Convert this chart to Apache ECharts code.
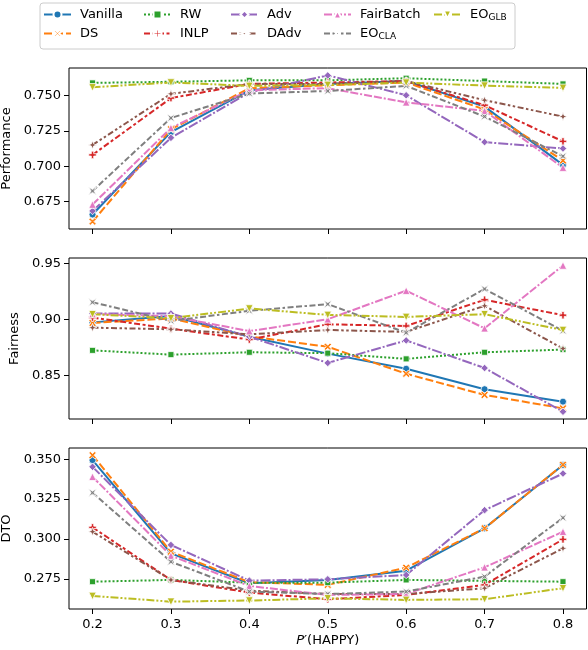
<!DOCTYPE html>
<html>
<head>
<meta charset="utf-8">
<script src="https://cdn.jsdelivr.net/npm/echarts@6/dist/echarts.min.js"></script>
<style>
html, body { margin: 0; padding: 0; background: #fff; }
#chart { width: 588px; height: 650px; }
</style>
</head>
<body>
<div id="chart"></div>
<script>
// x positions, P'(HAPPY)
var xValues = [0.2, 0.3, 0.4, 0.5, 0.6, 0.7, 0.8];
var xTicks = [0.2, 0.3, 0.4, 0.5, 0.6, 0.7, 0.8];

var methods = ['Vanilla', 'DS', 'RW', 'INLP', 'Adv', 'DAdv', 'FairBatch', 'EO_CLA', 'EO_GLB'];

// Performance
var perfVanilla   = [0.666, 0.724, 0.7535, 0.758, 0.760, 0.742, 0.701];
var perfDS        = [0.661, 0.726, 0.755, 0.757, 0.759, 0.740, 0.704];
var perfRW        = [0.7587, 0.7595, 0.7605, 0.7605, 0.762, 0.760, 0.758];
var perfINLP      = [0.708, 0.748, 0.758, 0.759, 0.760, 0.743, 0.7175];
var perfAdv       = [0.6685, 0.720, 0.752, 0.764, 0.750, 0.717, 0.7125];
var perfDAdv      = [0.715, 0.751, 0.758, 0.758, 0.760, 0.7465, 0.735];
var perfFairBatch = [0.673, 0.727, 0.7535, 0.755, 0.745, 0.739, 0.699];
var perfEOCLA     = [0.6826, 0.734, 0.7512, 0.753, 0.7566, 0.735, 0.707];
var perfEOGLB     = [0.7556, 0.759, 0.7566, 0.7573, 0.7589, 0.7568, 0.7552];

// Fairness
var fairVanilla   = [0.8975, 0.9033, 0.8847, 0.8696, 0.8561, 0.8378, 0.8267];
var fairDS        = [0.897, 0.901, 0.885, 0.8757, 0.8516, 0.8327, 0.8207];
var fairRW        = [0.8725, 0.8687, 0.8708, 0.870, 0.8649, 0.8708, 0.8732];
var fairINLP      = [0.9018, 0.8919, 0.8822, 0.8958, 0.8943, 0.9177, 0.9039];
var fairAdv       = [0.9054, 0.9054, 0.8847, 0.8613, 0.8814, 0.8567, 0.8177];
var fairDAdv      = [0.8928, 0.8913, 0.8868, 0.8907, 0.889, 0.9123, 0.8741];
var fairFairBatch = [0.905, 0.903, 0.8897, 0.9003, 0.9258, 0.8922, 0.9483];
var fairEOCLA     = [0.9155, 0.8988, 0.9078, 0.9138, 0.8883, 0.9273, 0.890];
var fairEOGLB     = [0.9048, 0.9012, 0.9099, 0.9042, 0.9024, 0.9048, 0.8907];

// DTO
var dtoVanilla   = [0.3494, 0.291, 0.2723, 0.2744, 0.2802, 0.3067, 0.3463];
var dtoDS        = [0.3525, 0.2921, 0.273, 0.2713, 0.2821, 0.3067, 0.3465];
var dtoRW        = [0.2733, 0.2744, 0.2727, 0.2727, 0.2744, 0.2738, 0.2733];
var dtoINLP      = [0.3073, 0.2744, 0.2665, 0.2623, 0.265, 0.2713, 0.2998];
var dtoAdv       = [0.3452, 0.2963, 0.274, 0.2748, 0.2775, 0.3181, 0.341];
var dtoDAdv      = [0.3046, 0.2744, 0.2677, 0.2656, 0.2656, 0.2692, 0.2942];
var dtoFairBatch = [0.339, 0.2896, 0.2706, 0.265, 0.2656, 0.2823, 0.3046];
var dtoEOCLA     = [0.329, 0.2858, 0.2671, 0.2656, 0.2671, 0.2765, 0.3133];
var dtoEOGLB     = [0.2644, 0.2608, 0.2615, 0.2629, 0.2619, 0.2623, 0.2692];

var perfTicks = [0.675, 0.700, 0.725, 0.750];
var fairTicks = [0.85, 0.90, 0.95];
var dtoTicks = [0.275, 0.300, 0.325, 0.350];

var colors = ['#1f77b4', '#ff7f0e', '#2ca02c', '#d62728', '#9467bd', '#8c564b', '#e377c2', '#7f7f7f', '#bcbd22'];
// seaborn dash specs (in line widths), scaled by lw = 2px below
var dashSpecs = [
    null, [4, 1.5], [1, 1], [3, 1.25, 1.5, 1.25], [5, 1, 1, 1],
    [3, 1.25, 1.25, 1.25, 1.25, 1.25], [4, 1, 4, 1, 1, 1],
    [3, 1.25, 3, 1.25, 1.25, 1.25], [4, 1, 1, 1, 1, 1]
];
var markers = [
    'circle',
    'path://M2,0 L5,3 L8,0 L10,2 L7,5 L10,8 L8,10 L5,7 L2,10 L0,8 L3,5 L0,2 Z',
    'rect',
    'path://M3.4,0 H6.6 V3.4 H10 V6.6 H6.6 V10 H3.4 V6.6 H0 V3.4 H3.4 Z',
    'diamond',
    'path://M5,0 L6.3,3.7 L10,5 L6.3,6.3 L5,10 L3.7,6.3 L0,5 L3.7,3.7 Z',
    'triangle',
    'path://M0,0 L5,3.2 L10,0 L6.8,5 L10,10 L5,6.8 L0,10 L3.2,5 Z',
    'triangle'
];
var markerSizes = [7, 7.5, 6, 7.5, 7.5, 8.5, 7.5, 8, 7.5];
var markerRotate = [0, 0, 0, 0, 0, 0, 0, 0, 180];

var perfRows = [perfVanilla, perfDS, perfRW, perfINLP, perfAdv, perfDAdv, perfFairBatch, perfEOCLA, perfEOGLB];
var fairRows = [fairVanilla, fairDS, fairRW, fairINLP, fairAdv, fairDAdv, fairFairBatch, fairEOCLA, fairEOGLB];
var dtoRows = [dtoVanilla, dtoDS, dtoRW, dtoINLP, dtoAdv, dtoDAdv, dtoFairBatch, dtoEOCLA, dtoEOGLB];

var font = 'DejaVu Sans';

function panelSeries(panel, rows) {
    return methods.map(function (name, i) {
        var dash = dashSpecs[i] ? dashSpecs[i].map(function (d) { return d * 2; }) : 'solid';
        return {
            name: name,
            type: 'line',
            xAxisIndex: panel,
            yAxisIndex: panel,
            data: xValues.map(function (x, j) { return [x, rows[i][j]]; }),
            symbol: markers[i],
            symbolSize: markerSizes[i],
            symbolRotate: markerRotate[i],
            showAllSymbol: true,
            animation: false,
            lineStyle: { color: colors[i], width: 2, type: dash, cap: 'butt' },
            itemStyle: { color: colors[i], borderColor: '#fff', borderWidth: 0.8 }
        };
    });
}

function xAxisFor(panel, showLabels) {
    var ax = {
        type: 'value',
        gridIndex: panel,
        min: 0.17,
        max: 0.83,
        splitLine: { show: false },
        axisLine: { show: false },
        axisTick: { show: true, length: 5, customValues: xTicks, lineStyle: { color: '#000', width: 1 } },
        axisLabel: {
            show: showLabels,
            customValues: xTicks,
            margin: 9,
            color: '#000',
            fontFamily: font,
            fontSize: 13,
            formatter: function (v) { return v.toFixed(1); }
        }
    };
    if (showLabels) {
        ax.name = '{it|P′}(HAPPY)';
        ax.nameLocation = 'middle';
        ax.nameGap = 25;
        ax.nameTextStyle = {
            color: '#000', fontFamily: font, fontSize: 13,
            rich: { it: { fontStyle: 'italic', fontFamily: font, fontSize: 13, color: '#000' } }
        };
    }
    return ax;
}

function yAxisFor(panel, name, lo, hi, ticks, digits, gap) {
    return {
        type: 'value',
        gridIndex: panel,
        min: lo,
        max: hi,
        name: name,
        nameLocation: 'middle',
        nameGap: gap,
        nameRotate: 90,
        nameTextStyle: { color: '#000', fontFamily: font, fontSize: 13 },
        splitLine: { show: false },
        axisLine: { show: false },
        axisTick: { show: true, length: 5, customValues: ticks, lineStyle: { color: '#000', width: 1 } },
        axisLabel: {
            customValues: ticks,
            margin: 8,
            color: '#000',
            fontFamily: font,
            fontSize: 13,
            formatter: function (v) { return v.toFixed(digits); }
        }
    };
}

var legendCols = [['Vanilla', 'DS'], ['RW', 'INLP'], ['Adv', 'DAdv'], ['FairBatch', 'EO_CLA'], ['EO_GLB']];
var legendLefts = [43, 143, 230, 323, 433];

function legendLabel(name) {
    if (name === 'EO_CLA') return '{b|EO}{s|CLA}';
    if (name === 'EO_GLB') return '{b|EO}{s|GLB}';
    return '{b|' + name + '}';
}

var legends = legendCols.map(function (col, k) {
    return {
        orient: 'vertical',
        left: legendLefts[k],
        top: 8,
        padding: 0,
        itemWidth: 27,
        itemHeight: 10,
        itemGap: 6,
        z: 10,
        data: col,
        formatter: legendLabel,
        textStyle: {
            color: '#000',
            fontFamily: font,
            fontSize: 13,
            padding: [0, 0, 0, 4],
            rich: {
                b: { fontFamily: font, fontSize: 13, color: '#000', lineHeight: 16, verticalAlign: 'middle' },
                s: { fontFamily: font, fontSize: 9, color: '#000', lineHeight: 16, verticalAlign: 'bottom', padding: [5, 0, 0, 0] }
            }
        }
    };
});

var chart = echarts.init(document.getElementById('chart'), null, { renderer: 'canvas' });

var gridBox = { show: true, borderColor: '#000', borderWidth: 1, backgroundColor: 'transparent', outerBoundsMode: 'none', containLabel: false };

var option = {
    backgroundColor: '#fff',
    animation: false,
    graphic: [{
        type: 'rect',
        z: 1,
        shape: { x: 40, y: 3, width: 475, height: 46, r: 3 },
        style: { fill: '#fff', stroke: '#cccccc', lineWidth: 1 }
    }],
    legend: legends,
    grid: [
        Object.assign({ left: 69, right: 1.5, top: 68, height: 161 }, gridBox),
        Object.assign({ left: 69, right: 1.5, top: 258, height: 161 }, gridBox),
        Object.assign({ left: 69, right: 1.5, top: 448, height: 161 }, gridBox)
    ],
    xAxis: [xAxisFor(0, false), xAxisFor(1, false), xAxisFor(2, true)],
    yAxis: [
        yAxisFor(0, 'Performance', 0.6558, 0.7692, perfTicks, 3, 51),
        yAxisFor(1, 'Fairness', 0.8112, 0.9550, fairTicks, 2, 47),
        yAxisFor(2, 'DTO', 0.2562, 0.3570, dtoTicks, 3, 55)
    ],
    series: [].concat(panelSeries(0, perfRows), panelSeries(1, fairRows), panelSeries(2, dtoRows))
};

chart.setOption(option);

window.addEventListener('resize', function () {
    chart.resize();
});
</script>
</body>
</html>
